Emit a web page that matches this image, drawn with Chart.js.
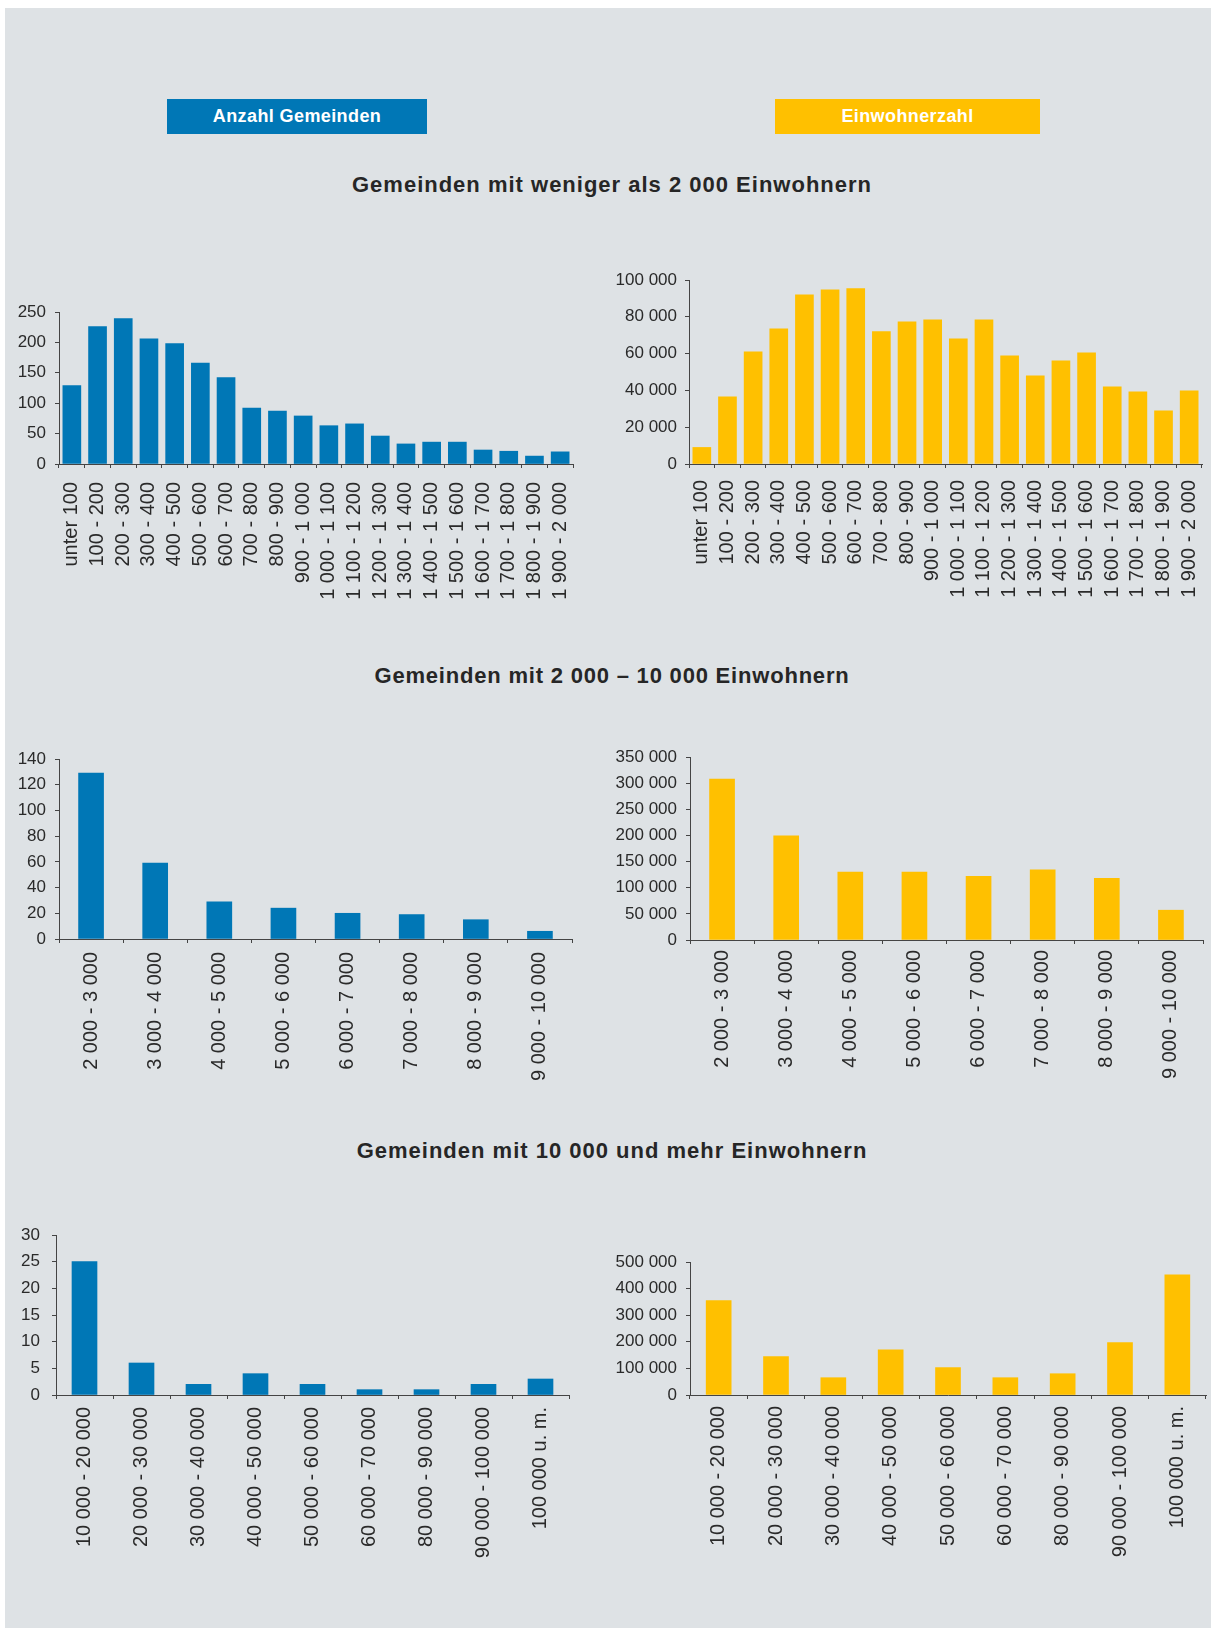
<!DOCTYPE html>
<html>
<head>
<meta charset="utf-8">
<script src="https://cdn.jsdelivr.net/npm/chart.js@4/dist/chart.umd.min.js"></script>
<style>
  body { margin: 0; background: #fff; font-family: "Liberation Sans", Arial, sans-serif; }
  #panel { position: absolute; left: 5px; top: 8px; width: 1206px; height: 1620px; background: #dee2e5; }
  .key { position: absolute; top: 99px; height: 35px; line-height: 35px; color: #fff;
         font-weight: bold; font-size: 18px; letter-spacing: 0.4px; text-align: center; }
  .title { position: absolute; left: 312px; width: 600px; line-height: 26px; text-align: center;
           font-size: 22px; font-weight: bold; letter-spacing: 1px; color: #262626; white-space: nowrap; }
  canvas { position: absolute; }
</style>
</head>
<body>
<div id="panel"></div>
<div class="key" style="left:167px;width:260px;background:#0077b6">Anzahl Gemeinden</div>
<div class="key" style="left:775px;width:265px;background:#ffc000">Einwohnerzahl</div>
<div class="title" style="top:172px">Gemeinden mit weniger als 2 000 Einwohnern</div>
<div class="title" style="top:663px;letter-spacing:0.8px">Gemeinden mit 2 000 – 10 000 Einwohnern</div>
<div class="title" style="top:1138px">Gemeinden mit 10 000 und mehr Einwohnern</div>

<canvas id="c1"></canvas>
<canvas id="c2"></canvas>
<canvas id="c3"></canvas>
<canvas id="c4"></canvas>
<canvas id="c5"></canvas>
<canvas id="c6"></canvas>

<script>
// Gemeinden mit weniger als 2 000 Einwohnern
const smallClasses = ['unter 100', '100 - 200', '200 - 300', '300 - 400', '400 - 500', '500 - 600',
  '600 - 700', '700 - 800', '800 - 900', '900 - 1 000', '1 000 - 1 100', '1 100 - 1 200',
  '1 200 - 1 300', '1 300 - 1 400', '1 400 - 1 500', '1 500 - 1 600', '1 600 - 1 700',
  '1 700 - 1 800', '1 800 - 1 900', '1 900 - 2 000'];
const smallCounts = [129, 226, 239, 206, 198, 166, 142, 92, 87, 79, 63, 66, 46, 33, 36, 36, 23, 21, 13, 20];
const smallPop = [9000, 36500, 61000, 73500, 92000, 94700, 95300, 71900, 77300, 78400,
  68000, 78400, 58800, 47900, 56100, 60400, 41900, 39200, 28900, 39700];

// Gemeinden mit 2 000 - 10 000 Einwohnern
const midClasses = ['2 000 - 3 000', '3 000 - 4 000', '4 000 - 5 000', '5 000 - 6 000',
  '6 000 - 7 000', '7 000 - 8 000', '8 000 - 9 000', '9 000 - 10 000'];
const midCounts = [129, 59, 29, 24, 20, 19, 15, 6];
const midPop = [308000, 199000, 130000, 130000, 122000, 134000, 118000, 57000];

// Gemeinden mit 10 000 und mehr Einwohnern
const largeClasses = ['10 000 - 20 000', '20 000 - 30 000', '30 000 - 40 000', '40 000 - 50 000',
  '50 000 - 60 000', '60 000 - 70 000', '80 000 - 90 000', '90 000 - 100 000', '100 000 u. m.'];
const largeCounts = [25, 6, 2, 4, 2, 1, 1, 2, 3];
const largePop = [355000, 144000, 65000, 170000, 103000, 65000, 80000, 197000, 452000];

const BLUE = '#0077b6';
const YELLOW = '#ffc000';
const FONT = '"Liberation Sans", Arial, sans-serif';

function fmt (v) {
  return String(v).replace(/\B(?=(\d{3})+(?!\d))/g, ' ');
}

// left/axisX/right/top/zero are page pixels of the plot frame
function drawBars (id, labels, values, color, frame, yMax, yStep, bar, xPad, yPad) {
  const canvas = document.getElementById(id);
  // padding must exceed what chart.js reserves for the outer tick labels
  const padTop = 25, padRight = 30, xAxisH = 190;
  const w = frame.right + padRight - frame.left;
  const h = frame.zero - frame.top + padTop + xAxisH;
  canvas.style.left = frame.left + 'px';
  canvas.style.top = (frame.top - padTop) + 'px';
  canvas.width = w;
  canvas.height = h;
  canvas.style.width = w + 'px';
  canvas.style.height = h + 'px';

  new Chart(canvas, {
    type: 'bar',
    data: {
      labels: labels,
      datasets: [{
        data: values,
        backgroundColor: color,
        barThickness: bar
      }]
    },
    options: {
      responsive: false,
      animation: false,
      events: [],
      layout: { padding: { top: padTop, right: padRight, left: 0, bottom: 0 } },
      plugins: { legend: { display: false }, tooltip: { enabled: false } },
      scales: {
        x: {
          afterFit: s => { s.height = xAxisH },
          grid: { drawOnChartArea: false, tickLength: 4, color: '#444' },
          border: { color: '#444', width: 1 },
          ticks: {
            autoSkip: false, minRotation: 90, maxRotation: 90,
            padding: xPad, color: '#2a2a2a', font: { family: FONT, size: 20 }
          }
        },
        y: {
          min: 0,
          max: yMax,
          afterFit: s => { s.width = frame.axisX - frame.left },
          grid: { drawOnChartArea: false, tickLength: 4, color: '#444' },
          border: { color: '#444', width: 1 },
          ticks: {
            stepSize: yStep, padding: yPad, color: '#2a2a2a',
            font: { family: FONT, size: 17 },
            callback: v => fmt(v)
          }
        }
      }
    }
  });
}

drawBars('c1', smallClasses, smallCounts, BLUE,
  { left: 0, axisX: 59, right: 573, top: 312, zero: 464 }, 250, 50, 18, 14, 9);
drawBars('c2', smallClasses, smallPop, YELLOW,
  { left: 610, axisX: 689, right: 1202, top: 280, zero: 464 }, 100000, 20000, 18, 12, 8);
drawBars('c3', midClasses, midCounts, BLUE,
  { left: 0, axisX: 59, right: 572, top: 759, zero: 939 }, 140, 20, 25, 9, 9);
drawBars('c4', midClasses, midPop, YELLOW,
  { left: 610, axisX: 690, right: 1203, top: 757, zero: 940 }, 350000, 50000, 25, 6, 9);
drawBars('c5', largeClasses, largeCounts, BLUE,
  { left: 0, axisX: 56, right: 569, top: 1235, zero: 1395 }, 30, 5, 25, 8, 12);
drawBars('c6', largeClasses, largePop, YELLOW,
  { left: 610, axisX: 690, right: 1206, top: 1262, zero: 1395 }, 500000, 100000, 25, 7, 9);
</script>
</body>
</html>
